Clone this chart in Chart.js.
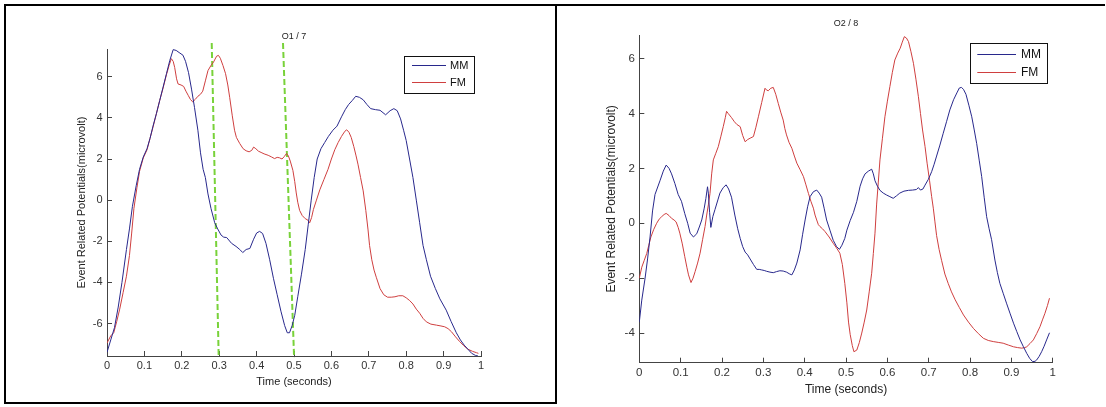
<!DOCTYPE html>
<html><head><meta charset="utf-8">
<script src="https://cdn.jsdelivr.net/npm/chart.js@4/dist/chart.umd.min.js"></script>
<style>
html,body{margin:0;padding:0;background:#fff;}
body{width:1106px;height:407px;position:relative;overflow:hidden;font-family:"Liberation Sans",Arial,sans-serif;}
#box1{position:absolute;left:4px;top:4px;width:549px;height:396px;border:2px solid #000;}
#line2{position:absolute;left:556px;top:4px;width:549px;height:0;border-top:2px solid #000;}
#c1{position:absolute;left:5px;top:5px;}
#c2{position:absolute;left:557px;top:6px;}
</style></head>
<body>
<div id="box1"></div><div id="line2"></div>
<canvas id="c1" width="550" height="398"></canvas>
<canvas id="c2" width="549" height="401"></canvas>
<script>
// ---------- data ----------
const xTicks = [0, 0.1, 0.2, 0.3, 0.4, 0.5, 0.6, 0.7, 0.8, 0.9, 1];
const o1YTicks = [-6, -4, -2, 0, 2, 4, 6];
const o2YTicks = [-4, -2, 0, 2, 4, 6];
const seriesNames = ['MM', 'FM'];
const panelTitles = ['O1 / 7', 'O2 / 8'];

// Panel O1 / 7
const o1TimeMM = [0.000,0.010,0.020,0.030,0.040,0.052,0.060,0.068,0.078,0.087,0.097,0.107,0.115,0.123,0.132,0.141,0.150,0.159,0.168,0.177,0.185,0.195,0.203,0.210,0.218,0.226,0.234,0.243,0.250,0.257,0.263,0.270,0.278,0.288,0.296,0.305,0.312,0.320,0.333,0.345,0.355,0.363,0.372,0.382,0.392,0.400,0.408,0.416,0.425,0.435,0.445,0.455,0.465,0.475,0.482,0.488,0.495,0.502,0.510,0.520,0.530,0.538,0.546,0.554,0.562,0.572,0.582,0.592,0.604,0.615,0.627,0.637,0.646,0.656,0.665,0.675,0.685,0.695,0.705,0.718,0.730,0.745,0.757,0.767,0.776,0.785,0.793,0.800,0.809,0.818,0.827,0.836,0.845,0.854,0.865,0.878,0.890,0.907,0.920,0.934,0.945,0.955,0.965,0.975,0.985,0.992];
const o1MM = [-7.40,-6.80,-6.20,-5.20,-4.00,-2.40,-1.40,-0.30,0.70,1.50,2.10,2.50,3.00,3.60,4.20,4.85,5.50,6.15,6.80,7.32,7.28,7.15,7.05,6.75,6.20,5.40,4.50,3.40,2.30,1.50,1.10,0.30,-0.40,-1.10,-1.40,-1.70,-1.80,-1.82,-2.10,-2.25,-2.40,-2.55,-2.40,-2.35,-1.90,-1.60,-1.52,-1.62,-2.10,-2.90,-3.80,-4.60,-5.40,-6.10,-6.45,-6.45,-6.10,-5.60,-4.70,-3.60,-2.40,-1.20,0.00,1.10,2.00,2.50,2.80,3.10,3.40,3.60,4.05,4.40,4.65,4.85,5.05,5.00,4.88,4.65,4.45,4.40,4.37,4.15,4.35,4.45,4.35,3.95,3.40,2.90,2.00,1.10,0.00,-1.10,-2.20,-2.90,-3.70,-4.30,-4.80,-5.35,-5.90,-6.45,-6.80,-7.05,-7.25,-7.45,-7.55,-7.58];
const o1TimeFM = [0.000,0.010,0.018,0.026,0.034,0.043,0.052,0.060,0.066,0.072,0.080,0.087,0.097,0.107,0.115,0.123,0.132,0.141,0.150,0.159,0.166,0.172,0.177,0.181,0.186,0.190,0.198,0.205,0.211,0.217,0.223,0.229,0.236,0.243,0.250,0.256,0.263,0.270,0.278,0.285,0.293,0.298,0.303,0.310,0.317,0.323,0.328,0.335,0.341,0.346,0.355,0.364,0.372,0.380,0.387,0.392,0.398,0.405,0.412,0.420,0.431,0.440,0.448,0.455,0.461,0.468,0.474,0.480,0.485,0.490,0.497,0.502,0.506,0.510,0.515,0.522,0.530,0.537,0.542,0.547,0.552,0.560,0.569,0.580,0.591,0.600,0.609,0.618,0.627,0.636,0.641,0.647,0.653,0.660,0.666,0.671,0.678,0.685,0.692,0.698,0.702,0.708,0.714,0.720,0.730,0.740,0.750,0.760,0.770,0.780,0.791,0.800,0.809,0.818,0.827,0.836,0.845,0.854,0.866,0.881,0.893,0.903,0.912,0.921,0.932,0.943,0.954,0.965,0.977,0.988,0.993];
const o1FM = [-6.95,-6.60,-6.45,-5.90,-5.30,-4.50,-3.70,-2.70,-1.60,-0.40,0.60,1.40,2.05,2.45,3.00,3.55,4.20,4.85,5.45,6.10,6.55,6.88,6.75,6.45,5.90,5.65,5.60,5.53,5.30,5.10,4.90,4.78,4.90,5.05,5.15,5.30,5.80,6.30,6.55,6.72,7.00,7.04,6.90,6.55,6.15,5.60,5.00,4.10,3.40,3.05,2.75,2.50,2.40,2.35,2.42,2.58,2.50,2.38,2.32,2.25,2.18,2.10,2.02,2.08,2.06,2.00,2.12,2.27,2.15,1.90,1.45,0.90,0.35,-0.10,-0.50,-0.75,-0.90,-0.97,-1.10,-0.85,-0.45,0.00,0.50,1.00,1.50,2.00,2.45,2.80,3.10,3.35,3.42,3.30,3.05,2.60,2.15,1.75,1.10,0.45,-0.50,-1.45,-2.20,-2.90,-3.40,-3.75,-4.30,-4.60,-4.72,-4.72,-4.70,-4.65,-4.65,-4.75,-4.88,-5.05,-5.30,-5.50,-5.75,-5.92,-6.03,-6.08,-6.12,-6.16,-6.25,-6.40,-6.65,-6.88,-7.08,-7.25,-7.35,-7.42,-7.45];
// green dashed marker lines (time at top, time at bottom)
const o1MarkerTop = [0.280, 0.4706];
const o1MarkerBottom = [0.2987, 0.5003];
const o1MarkerY = [7.64, -7.68];

// Panel O2 / 8
const o2TimeMM = [0.000,0.006,0.014,0.020,0.026,0.032,0.038,0.050,0.058,0.065,0.072,0.078,0.086,0.094,0.102,0.110,0.117,0.123,0.131,0.139,0.146,0.151,0.157,0.161,0.165,0.167,0.170,0.173,0.178,0.183,0.190,0.195,0.203,0.210,0.216,0.223,0.231,0.238,0.244,0.250,0.256,0.262,0.268,0.276,0.284,0.290,0.296,0.302,0.308,0.316,0.324,0.332,0.340,0.348,0.356,0.364,0.369,0.375,0.381,0.389,0.395,0.401,0.407,0.413,0.421,0.429,0.435,0.441,0.447,0.453,0.461,0.469,0.477,0.484,0.490,0.497,0.502,0.510,0.518,0.526,0.534,0.540,0.546,0.554,0.562,0.566,0.570,0.576,0.582,0.590,0.598,0.606,0.614,0.622,0.630,0.640,0.651,0.661,0.670,0.675,0.680,0.686,0.691,0.699,0.707,0.713,0.719,0.727,0.735,0.743,0.751,0.760,0.768,0.774,0.779,0.784,0.790,0.797,0.804,0.810,0.816,0.822,0.828,0.834,0.840,0.846,0.852,0.860,0.866,0.872,0.880,0.888,0.897,0.905,0.913,0.921,0.929,0.937,0.944,0.951,0.957,0.961,0.967,0.973,0.979,0.985,0.992];
const o2MM = [-3.60,-2.80,-2.00,-1.30,-0.50,0.45,1.05,1.55,1.90,2.12,2.00,1.80,1.45,1.05,0.80,0.35,0.00,-0.36,-0.50,-0.38,-0.10,0.12,0.55,0.90,1.33,1.10,0.40,-0.15,0.25,0.50,0.85,1.10,1.30,1.40,1.25,0.95,0.30,-0.20,-0.55,-0.85,-1.05,-1.15,-1.30,-1.50,-1.68,-1.68,-1.70,-1.72,-1.75,-1.78,-1.80,-1.76,-1.73,-1.74,-1.78,-1.85,-1.88,-1.70,-1.45,-0.97,-0.40,0.12,0.60,0.97,1.15,1.21,1.10,0.95,0.55,0.12,-0.25,-0.62,-0.85,-0.95,-0.80,-0.55,-0.25,0.10,0.40,0.80,1.35,1.62,1.80,1.90,1.97,1.80,1.55,1.35,1.20,1.10,1.03,0.97,0.91,1.00,1.10,1.17,1.20,1.21,1.23,1.30,1.21,1.25,1.39,1.60,1.88,2.15,2.45,2.85,3.28,3.70,4.13,4.50,4.75,4.93,4.95,4.88,4.70,4.30,3.88,3.40,2.90,2.30,1.70,0.95,0.24,-0.20,-0.60,-1.34,-1.80,-2.19,-2.55,-2.91,-3.30,-3.64,-3.95,-4.25,-4.50,-4.74,-4.92,-5.04,-5.03,-4.98,-4.85,-4.68,-4.48,-4.25,-3.99];
const o2TimeFM = [0.000,0.006,0.012,0.018,0.023,0.028,0.035,0.042,0.048,0.054,0.060,0.065,0.072,0.078,0.084,0.089,0.094,0.098,0.104,0.110,0.115,0.119,0.125,0.130,0.135,0.141,0.147,0.153,0.159,0.163,0.167,0.171,0.175,0.179,0.185,0.191,0.197,0.203,0.208,0.211,0.215,0.223,0.230,0.236,0.244,0.250,0.256,0.262,0.268,0.276,0.282,0.288,0.296,0.304,0.308,0.312,0.318,0.324,0.330,0.336,0.342,0.348,0.352,0.356,0.362,0.369,0.375,0.381,0.389,0.397,0.403,0.409,0.415,0.421,0.425,0.429,0.433,0.437,0.443,0.449,0.459,0.469,0.477,0.485,0.491,0.497,0.502,0.506,0.510,0.515,0.519,0.526,0.532,0.538,0.544,0.550,0.556,0.562,0.566,0.570,0.574,0.578,0.582,0.588,0.594,0.600,0.606,0.612,0.618,0.625,0.631,0.636,0.641,0.646,0.651,0.657,0.663,0.669,0.675,0.680,0.685,0.691,0.696,0.702,0.707,0.711,0.715,0.719,0.725,0.731,0.739,0.747,0.755,0.764,0.774,0.784,0.796,0.808,0.820,0.832,0.844,0.856,0.868,0.880,0.893,0.905,0.915,0.925,0.932,0.937,0.945,0.953,0.961,0.969,0.975,0.981,0.987,0.992];
const o2FM = [-2.00,-1.60,-1.35,-1.10,-0.80,-0.50,-0.22,0.00,0.15,0.24,0.32,0.36,0.28,0.18,0.12,0.05,-0.15,-0.36,-0.75,-1.22,-1.60,-1.88,-2.16,-2.00,-1.76,-1.45,-1.09,-0.60,-0.12,0.30,0.67,1.09,1.80,2.31,2.55,2.79,3.15,3.52,3.85,4.08,4.00,3.85,3.70,3.60,3.52,3.20,2.97,3.05,3.10,3.16,3.50,3.88,4.40,4.92,4.85,4.83,4.92,4.95,4.70,4.37,4.05,3.76,3.45,3.22,2.95,2.73,2.45,2.19,1.95,1.70,1.40,1.09,0.80,0.55,0.30,0.12,-0.05,-0.12,-0.20,-0.30,-0.50,-0.73,-0.90,-1.09,-1.50,-2.19,-2.90,-3.60,-4.05,-4.45,-4.68,-4.62,-4.35,-4.00,-3.60,-3.16,-2.50,-1.82,-1.10,-0.36,0.70,1.50,2.31,3.10,3.88,4.45,4.98,5.50,5.95,6.20,6.38,6.60,6.80,6.75,6.62,6.25,5.83,5.25,4.61,4.00,3.40,2.80,2.19,1.55,0.97,0.55,0.05,-0.45,-0.95,-1.35,-1.85,-2.19,-2.50,-2.79,-3.07,-3.34,-3.60,-3.83,-4.02,-4.19,-4.27,-4.31,-4.34,-4.37,-4.44,-4.50,-4.53,-4.55,-4.53,-4.50,-4.38,-4.25,-4.02,-3.77,-3.52,-3.28,-3.00,-2.73];

// ---------- styles ----------
const MM_COLOR = '#28288c';
const FM_COLOR = '#cf3f3f';
const GREEN = '#79d23a';
const FONT = '"Liberation Sans", Arial, Helvetica, sans-serif';

const pts = (xs, ys) => xs.map((x, i) => ({x: x, y: ys[i]}));

const panelDecor = {
  id: 'panelDecor',
  afterDatasetsDraw(chart, args, opts) {
    const ctx = chart.ctx, a = chart.chartArea;
    ctx.save();
    ctx.font = opts.titleSize + 'px ' + FONT;
    ctx.fillStyle = '#222';
    ctx.textAlign = 'center';
    ctx.textBaseline = 'middle';
    ctx.fillText(opts.title, (a.left + a.right) / 2, a.top - opts.titleGap);
    const L = opts.legend;
    const bx = Math.round(a.right - L.right - L.width), by = Math.round(a.top + L.top);
    ctx.fillStyle = '#fff';
    ctx.fillRect(bx, by, L.width, L.height);
    ctx.strokeStyle = '#111';
    ctx.lineWidth = 1;
    ctx.strokeRect(bx + 0.5, by + 0.5, L.width, L.height);
    const items = chart.data.datasets.filter(d => d.inLegend);
    items.forEach((d, i) => {
      const y = by + L.firstRow + i * L.rowGap;
      ctx.strokeStyle = d.borderColor;
      ctx.lineWidth = 1;
      ctx.beginPath();
      ctx.moveTo(bx + L.lineStart, Math.round(y) + 0.5);
      ctx.lineTo(bx + L.lineStart + L.lineLen, Math.round(y) + 0.5);
      ctx.stroke();
      ctx.fillStyle = '#111';
      ctx.font = L.size + 'px ' + FONT;
      ctx.textAlign = 'left';
      ctx.textBaseline = 'middle';
      ctx.fillText(d.label, bx + L.lineStart + L.lineLen + L.textGap, y + 0.5);
    });
    ctx.restore();
  }
};

function lineDs(label, data, color) {
  return {label: label, data: data, borderColor: color, backgroundColor: color,
    borderWidth: 1, pointRadius: 0, tension: 0, fill: false, inLegend: true};
}

function makeChart(id, c) {
  return new Chart(document.getElementById(id), {
    type: 'line',
    data: {datasets: c.datasets},
    plugins: [panelDecor],
    options: {
      responsive: false, animation: false, devicePixelRatio: 1,
      layout: {padding: c.padding},
      plugins: {
        legend: {display: false}, tooltip: {enabled: false},
        panelDecor: c.decor
      },
      scales: {
        x: {
          type: 'linear', min: 0, max: 1,
          afterFit: s => { s.height = c.xHeight; },
          afterBuildTicks: s => { s.ticks = xTicks.map(v => ({value: v})); },
          ticks: {autoSkip: false, maxRotation: 0, padding: 8, color: '#333',
            font: {family: FONT, size: c.tickSize},
            callback: v => String(Math.round(v * 10) / 10)},
          grid: {drawOnChartArea: false, drawTicks: true, tickLength: -5, color: '#444'},
          border: {display: true, color: '#444', width: 1},
          title: {display: true, text: 'Time (seconds)', color: '#222',
            font: {family: FONT, size: c.labelSize}, padding: {top: 0, bottom: c.xTitlePad}}
        },
        y: {
          type: 'linear', min: c.yMin, max: c.yMax,
          afterFit: s => { s.width = c.yWidth; },
          afterBuildTicks: s => { s.ticks = c.yTicks.map(v => ({value: v})); },
          ticks: {autoSkip: false, padding: 9.5, color: '#333',
            font: {family: FONT, size: c.tickSize}},
          grid: {drawOnChartArea: false, drawTicks: true, tickLength: -5, color: '#444'},
          border: {display: true, color: '#444', width: 1},
          title: {display: true, text: 'Event Related Potentials(microvolt)', color: '#222',
            font: {family: FONT, size: c.labelSize}, padding: {top: c.yTitlePad, bottom: 0}}
        }
      }
    }
  });
}

// Panel 1
const o1Datasets = [
  lineDs(seriesNames[0], pts(o1TimeMM, o1MM), MM_COLOR),
  lineDs(seriesNames[1], pts(o1TimeFM, o1FM), FM_COLOR)
];
o1MarkerTop.forEach((t, i) => {
  o1Datasets.push({label: 'marker', inLegend: false, clip: false,
    data: [{x: t, y: o1MarkerY[0]}, {x: o1MarkerBottom[i], y: o1MarkerY[1]}],
    borderColor: GREEN, borderWidth: 2, borderDash: [6, 3], pointRadius: 0, tension: 0, fill: false});
});

makeChart('c1', {
  datasets: o1Datasets,
  padding: {left: 66, top: 44, right: 74, bottom: 0},
  xHeight: 47, yWidth: 36,
  yMin: -7.58, yMax: 7.35, yTicks: o1YTicks,
  tickSize: 11, labelSize: 11, xTitlePad: 14, yTitlePad: 4,
  decor: {title: panelTitles[0], titleSize: 9, titleGap: 12.7,
    legend: {right: 7, top: 7, width: 70, height: 37, firstRow: 9, rowGap: 17,
      lineStart: 8, lineLen: 34, textGap: 4, size: 11}}
});

makeChart('c2', {
  datasets: [
    lineDs(seriesNames[0], pts(o2TimeMM, o2MM), MM_COLOR),
    lineDs(seriesNames[1], pts(o2TimeFM, o2FM), FM_COLOR)
  ],
  padding: {left: 44, top: 29, right: 53.2, bottom: 0},
  xHeight: 44.3, yWidth: 38.3,
  yMin: -5.08, yMax: 6.86, yTicks: o2YTicks,
  tickSize: 11.5, labelSize: 12, xTitlePad: 9.8, yTitlePad: 3,
  decor: {title: panelTitles[1], titleSize: 9, titleGap: 11.3,
    legend: {right: 5.5, top: 8.3, width: 77, height: 40, firstRow: 11, rowGap: 18,
      lineStart: 7.3, lineLen: 38.7, textGap: 5, size: 12}}
});
</script>
</body></html>
